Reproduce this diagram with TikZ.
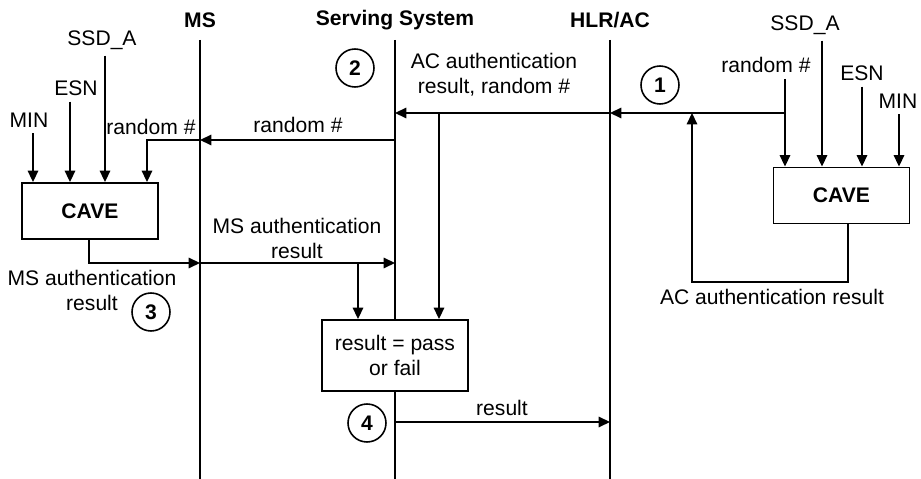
\documentclass[tikz,border=0pt]{standalone}
\usepackage{fontspec}
\setmainfont{Liberation Sans}
\usetikzlibrary{arrows.meta, positioning, calc}

\begin{document}
\begin{tikzpicture}[
  x=0.02cm, y=-0.02cm,
  every node/.style={font=\fontsize{12}{14.2}\selectfont},
  hdrlbl/.style={font=\fontsize{12}{14.2}\selectfont\bfseries},
  txtlbl/.style={align=center},
  lifeline/.style={line width=1.7pt},
  msgarrow/.style={line width=0.85pt, -{Triangle[length=6.5pt, width=6pt]}},
  cavebox/.style={draw, line width=1.1pt, fill=white, minimum width=2.72cm, minimum height=1.12cm, font=\fontsize{12}{14.2}\selectfont\bfseries},
  resbox/.style={draw, line width=1.1pt, fill=white, minimum width=2.92cm, minimum height=1.42cm, align=center},
  stepnum/.style={circle, draw, line width=0.9pt, minimum size=0.76cm, inner sep=0pt, font=\fontsize{12}{14.2}\selectfont\bfseries},
]
  \useasboundingbox (0,0) rectangle (921,479);

  % Lifelines
  \node[hdrlbl] (mslbl) at (200,20) {MS};
  \node[hdrlbl] (sslbl) at (395,20) {Serving System};
  \node[hdrlbl] (hlrlbl) at (610,20) {HLR/AC};
  \coordinate (msT) at (200,40);
  \coordinate (ssT) at (395,40);
  \coordinate (hlrT) at (610,40);
  \foreach \p in {msT, ssT, hlrT}
    \draw[lifeline] (\p) -- (\p |- 0,479);

  % Boxes
  \node[cavebox] (lcave) at (90,211) {CAVE};
  \node[cavebox] (rcave) at (841.5,195.5) {CAVE};
  \node[resbox] (res) at (395,355.5) {result = pass\\or fail};

  % Step numbers
  \node[stepnum] (s1) at (660,85) {1};
  \node[stepnum] (s2) at (355,68) {2};
  \node[stepnum] (s3) at (151,312) {3};
  \node[stepnum] (s4) at (367,423) {4};

  % Step 1: CAVE at the HLR/AC
  \foreach \id/\txt/\lx/\ly/\ax in {rrnd/random \#/766/65/785, rssd/SSD\_A/805/25/822, resn/ESN/862/73/862, rmin/MIN/898/101/899}
  {
    \node (\id) at (\lx,\ly) {\txt};
    \draw[msgarrow] (\id.south -| \ax,0) -- (rcave.north -| \ax,0);
  }
  \coordinate (rsplit) at (785,113);
  \draw[msgarrow] (rsplit) -- (hlrT |- rsplit);
  \coordinate (rloop) at (692,282);
  \draw[msgarrow] (rcave.south -| 848,0) |- (rloop) -- (rloop |- rsplit);
  \node (racres) at (772,297) {AC authentication result};

  % Step 2: Serving System passes random # on
  \coordinate (top2) at (ssT |- rsplit);
  \draw[msgarrow] (hlrT |- rsplit) -- (top2);
  \node[txtlbl] (aclbl) at (494,75) {AC authentication\\result, random \#};
  \coordinate (br2) at (439,113);
  \draw[msgarrow] (br2) -- (res.north -| br2);
  \coordinate (rnd2) at (395,140);
  \draw[msgarrow] (rnd2) -- (msT |- rnd2);
  \node (rndlbl) at (298,125) {random \#};

  % Step 3: CAVE at the MS
  \foreach \id/\txt/\lx/\ly/\ax in {lmin/MIN/29/120/33, lesn/ESN/76/88/70, lssd/SSD\_A/102/40/105}
  {
    \node (\id) at (\lx,\ly) {\txt};
    \draw[msgarrow] (\id.south -| \ax,0) -- (lcave.north -| \ax,0);
  }
  \node (lrnd) at (151,127) {random \#};
  \draw[msgarrow] (msT |- rnd2) -| (lcave.north -| 147,0);
  \coordinate (res3) at (200,263);
  \draw[msgarrow] (lcave.south -| 89,0) |- (res3);
  \draw[msgarrow] (res3) -- (ssT |- res3);
  \node[txtlbl] (lmsres) at (92,290) {MS authentication\\result};
  \node[txtlbl] (msreslbl) at (297,238) {MS authentication\\result};
  \coordinate (br3) at (358,263);
  \draw[msgarrow] (br3) -- (res.north -| br3);

  % Step 4: result to HLR/AC
  \coordinate (res4) at (395,422);
  \draw[msgarrow] (res4) -- (hlrT |- res4);
  \node (reslbl) at (502,408) {result};
\end{tikzpicture}
\end{document}
